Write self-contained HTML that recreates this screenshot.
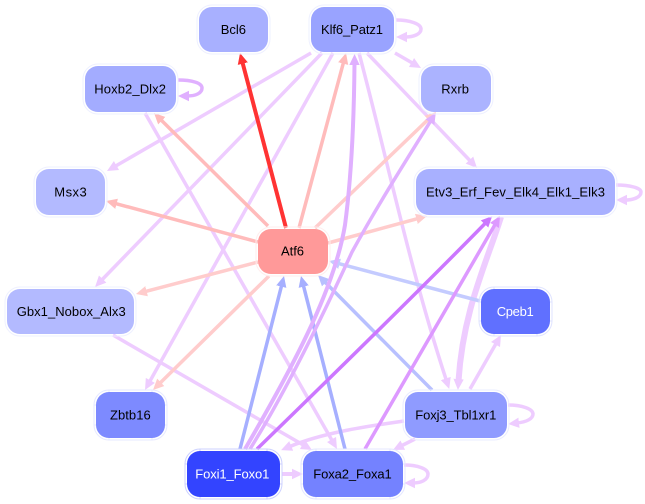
<!DOCTYPE html>
<html><head><meta charset="utf-8"><style>
html,body{margin:0;padding:0;background:#fff;width:645px;height:504px;overflow:hidden}
svg{display:block}
text{font-family:"Liberation Sans",sans-serif;font-size:13px}
.o{fill:none;stroke-width:1}
path{fill:none}
marker polygon{stroke:none}
</style></head><body>
<svg width="645" height="504" viewBox="0 0 645 504" xmlns="http://www.w3.org/2000/svg">
<defs>
<marker id="a1" markerUnits="userSpaceOnUse" markerWidth="13" markerHeight="12" refX="2" refY="6" orient="auto"><polygon points="0,0.8 11,6 0,11.2" fill="#ff3333"/></marker>
<marker id="a2" markerUnits="userSpaceOnUse" markerWidth="13" markerHeight="12" refX="2" refY="6" orient="auto"><polygon points="0,0.8 11,6 0,11.2" fill="#ffbbbb"/></marker>
<marker id="a3" markerUnits="userSpaceOnUse" markerWidth="13" markerHeight="12" refX="2" refY="6" orient="auto"><polygon points="0,0.8 11,6 0,11.2" fill="#ffcccc"/></marker>
<marker id="a4" markerUnits="userSpaceOnUse" markerWidth="13" markerHeight="12" refX="2" refY="6" orient="auto"><polygon points="0,0.8 11,6 0,11.2" fill="#a6afff"/></marker>
<marker id="a5" markerUnits="userSpaceOnUse" markerWidth="13" markerHeight="12" refX="2" refY="6" orient="auto"><polygon points="0,0.8 11,6 0,11.2" fill="#b8c0ff"/></marker>
<marker id="a6" markerUnits="userSpaceOnUse" markerWidth="13" markerHeight="12" refX="2" refY="6" orient="auto"><polygon points="0,0.8 11,6 0,11.2" fill="#c4cbff"/></marker>
<marker id="a7" markerUnits="userSpaceOnUse" markerWidth="13" markerHeight="12" refX="2" refY="6" orient="auto"><polygon points="0,0.8 11,6 0,11.2" fill="#eeccff"/></marker>
<marker id="a8" markerUnits="userSpaceOnUse" markerWidth="13" markerHeight="12" refX="2" refY="6" orient="auto"><polygon points="0,0.8 11,6 0,11.2" fill="#e0b0ff"/></marker>
<marker id="a9" markerUnits="userSpaceOnUse" markerWidth="13" markerHeight="12" refX="2" refY="6" orient="auto"><polygon points="0,0.8 11,6 0,11.2" fill="#cc77ff"/></marker>
<marker id="a10" markerUnits="userSpaceOnUse" markerWidth="13" markerHeight="12" refX="2" refY="6" orient="auto"><polygon points="0,0.8 11,6 0,11.2" fill="#dd99ff"/></marker>
</defs>

<!-- pale edges -->
<g stroke-width="3.5" stroke="#eeccff">
<path d="M311,53 L114.8,166.5" marker-end="url(#a7)"/>
<path d="M322,53 L101.3,280.5" marker-end="url(#a7)"/>
<path d="M333,53 L149.4,382.1" marker-end="url(#a7)"/>
<path d="M359,53 C385,150 410,270 446.4,380.4" marker-end="url(#a7)"/>
<path d="M367,53 L470.8,161.5" marker-end="url(#a7)"/>
<path d="M395,53 L413.2,63.5" marker-end="url(#a7)"/>
<path d="M145,113 L332.5,441.2" marker-end="url(#a7)"/>
<path d="M113,335 L304.2,445.5" marker-end="url(#a7)"/>
<path d="M470,389 L496.5,342.8" marker-end="url(#a7)"/>
<path d="M404,421 C370,426 325,432 289.4,446.7" marker-end="url(#a7)"/>
<path d="M415,439 L401,446" marker-end="url(#a7)"/>
<path d="M282,474 L294,474" stroke-width="4" marker-end="url(#a7)"/>
<path d="M396,20 C410,20 421,24 421,29 C421,34 414,37 405,37" marker-end="url(#a7)"/>
<path d="M508,405 C522,405 533,409 533,414 C533,419 526,422 517,423" marker-end="url(#a7)"/>
<path d="M404,465 C418,465 428,469 428,474 C428,480 421,483 413,483" marker-end="url(#a7)"/>
<path d="M616,185 C630,185 641,188 641,192 C641,197 634,200 625,200" marker-end="url(#a7)"/>
<path d="M501,217 C487,262 463,310 458.5,381" stroke-width="6" marker-end="url(#a7)"/>
</g>
<path d="M178,80 C192,80 202,83 202,88 C202,93 196,96 187,96" stroke="#e0b0ff" stroke-width="3.5" marker-end="url(#a8)"/>

<g stroke-width="3.5">
<path d="M268,226 L160.4,119.3" stroke="#ffbbbb" marker-end="url(#a2)"/>
<path d="M258,242 L114.7,203.3" stroke="#ffbbbb" marker-end="url(#a2)"/>
<path d="M299,228 L343.7,61.7" stroke="#ffbbbb" marker-end="url(#a2)"/>
<path d="M315,228 L429.5,118.2" stroke="#ffcccc" marker-end="url(#a3)"/>
<path d="M328,243 L418.3,218.4" stroke="#ffcccc" marker-end="url(#a3)"/>
<path d="M258,262 L144.7,291.7" stroke="#ffcccc" marker-end="url(#a3)"/>
<path d="M269,276 L159.4,383.7" stroke="#ffcccc" marker-end="url(#a3)"/>
<path d="M286,228 L242.3,61.7" stroke="#ff3333" stroke-width="4" marker-end="url(#a1)"/>
<path d="M240,449 L281.8,284.7" stroke="#a6afff" marker-end="url(#a4)"/>
<path d="M345,449 L303.2,284.7" stroke="#a6afff" marker-end="url(#a4)"/>
<path d="M432,390 L324.3,281.4" stroke="#b8c0ff" marker-end="url(#a5)"/>
<path d="M480,301 L337.7,263.3" stroke="#c4cbff" marker-end="url(#a6)"/>
<path d="M245,449 C300,355 335,285 345,225 C351,180 354,120 354.5,63" stroke="#e0b0ff" stroke-width="4" marker-end="url(#a8)"/>
<path d="M250,449 C290,385 330,300 352,252 C375,210 400,170 431,120.5" stroke="#e0b0ff" marker-end="url(#a8)"/>
<path d="M257,449 C330,378 420,290 485.9,222.6" stroke="#cc77ff" marker-end="url(#a9)"/>
<path d="M365,449 L495.5,223.7" stroke="#dd99ff" marker-end="url(#a10)"/>
</g>

<!-- nodes -->
<g>
<rect class="o" x="197" y="5" width="73" height="49" rx="15" stroke="#eef0ff"/><rect x="199" y="7" width="69" height="45" rx="13" fill="#a8b0ff"/>
<text x="220.7" y="34" textLength="25.3" fill="#000">Bcl6</text>

<rect class="o" x="309" y="5" width="87" height="49" rx="15" stroke="#eef0ff"/><rect x="311" y="7" width="83" height="45" rx="13" fill="#99a3ff"/>
<text x="321" y="34" textLength="62" fill="#000">Klf6_Patz1</text>

<rect class="o" x="83" y="64" width="95" height="50" rx="15" stroke="#eef0ff"/><rect x="85" y="66" width="91" height="46" rx="13" fill="#a3acff"/>
<text x="94.3" y="93.5" textLength="71.7" fill="#000">Hoxb2_Dlx2</text>

<rect class="o" x="419" y="64" width="74" height="50" rx="15" stroke="#eef0ff"/><rect x="421" y="66" width="70" height="46" rx="13" fill="#abb3ff"/>
<text x="441.3" y="93.5" textLength="27.7" fill="#000">Rxrb</text>

<rect class="o" x="34" y="167" width="73" height="50" rx="15" stroke="#eef0ff"/><rect x="36" y="169" width="69" height="46" rx="13" fill="#b3baff"/>
<text x="54.3" y="196.5" textLength="32.4" fill="#000">Msx3</text>

<rect class="o" x="414" y="167" width="203" height="50" rx="15" stroke="#eef0ff"/><rect x="416" y="169" width="199" height="46" rx="13" fill="#a8b0ff"/>
<text x="426" y="196.5" textLength="179" fill="#000">Etv3_Erf_Fev_Elk4_Elk1_Elk3</text>

<rect class="o" x="256" y="227" width="74" height="49" rx="15" stroke="#ffeeee"/><rect x="258" y="229" width="70" height="45" rx="13" fill="#ff9999"/>
<text x="281" y="255.5" textLength="23" fill="#000">Atf6</text>

<rect class="o" x="5" y="287" width="131" height="49" rx="15" stroke="#eef0ff"/><rect x="7" y="289" width="127" height="45" rx="13" fill="#b3baff"/>
<text x="16.7" y="316" textLength="109" fill="#000">Gbx1_Nobox_Alx3</text>

<rect class="o" x="479" y="287" width="73" height="49" rx="15" stroke="#dfe3ff"/><rect x="481" y="289" width="69" height="45" rx="13" fill="#6070ff"/>
<text x="496.7" y="316" textLength="37" fill="#fff">Cpeb1</text>
<path d="M494,287v2M537,287v2M494,334v2M537,334v2M479,302h2M479,321h2M550,302h2M550,321h2" stroke="#dfe3ff"/>

<rect class="o" x="94" y="390" width="73" height="50" rx="15" stroke="#e6e9ff"/><rect x="96" y="392" width="69" height="46" rx="13" fill="#7d8aff"/>
<text x="110" y="419.5" textLength="40.7" fill="#000">Zbtb16</text>
<path d="M109,390v2M152,390v2M109,438v2M152,438v2M94,405h2M94,425h2M165,405h2M165,425h2" stroke="#e6e9ff"/>

<rect class="o" x="403" y="390" width="106" height="50" rx="15" stroke="#eaecff"/><rect x="405" y="392" width="102" height="46" rx="13" fill="#8f9bff"/>
<text x="415.3" y="419.5" textLength="81" fill="#000">Foxj3_Tbl1xr1</text>

<rect class="o" x="185" y="449" width="97" height="50" rx="15" stroke="#ccd1ff"/><rect x="187" y="451" width="93" height="46" rx="13" fill="#3344ff"/>
<text x="195.3" y="478.5" textLength="74" fill="#fff">Foxi1_Foxo1</text>
<path d="M200,449v2M267,449v2M200,497v2M267,497v2M185,464h2M185,484h2M280,464h2M280,484h2" stroke="#ccd1ff"/>

<rect class="o" x="301" y="449" width="104" height="50" rx="15" stroke="#e4e7ff"/><rect x="303" y="451" width="100" height="46" rx="13" fill="#7482ff"/>
<text x="313.3" y="478.5" textLength="78.4" fill="#000">Foxa2_Foxa1</text>
<path d="M316,449v2M390,449v2M316,497v2M390,497v2M301,464h2M301,484h2M403,464h2M403,484h2" stroke="#e4e7ff"/>
</g>
</svg>
</body></html>
